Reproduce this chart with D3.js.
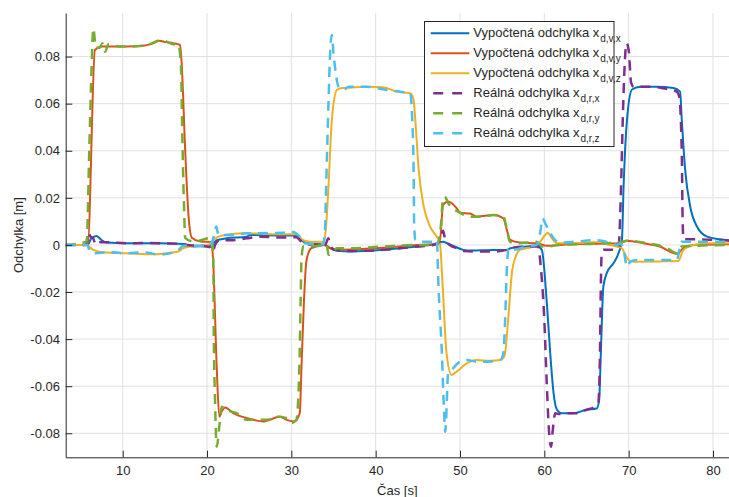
<!DOCTYPE html>
<meta charset="utf-8">
<style>
body { margin: 0; background: #fff; }
.grid line { stroke: #e1e1e1; stroke-width: 1; }
</style>
<svg width="729" height="497"></svg>
<script src="https://d3js.org/d3.v7.min.js"></script>
<script>

// ticks
var xTicks = [10, 20, 30, 40, 50, 60, 70, 80];
var yTicks = [-0.08, -0.06, -0.04, -0.02, 0, 0.02, 0.04, 0.06, 0.08];
var yTickLabels = ["-0.08", "-0.06", "-0.04", "-0.02", "0", "0.02", "0.04", "0.06", "0.08"];

// legend
var names = ["Vypočtená odchylka x", "Vypočtená odchylka x", "Vypočtená odchylka x",
             "Reálná odchylka x", "Reálná odchylka x", "Reálná odchylka x"];
var subs = ["d,v,x", "d,v,y", "d,v,z", "d,r,x", "d,r,y", "d,r,z"];
var colors = ["#0072BD", "#D95319", "#EDB120", "#7E2F8E", "#77AC30", "#4DBEEE"];

// computed x
var tVX = [3.24, 5.8, 6.3, 6.9, 7.5, 8.1, 10.5, 14.4, 17.2, 18.4, 20.0, 20.55, 21.15, 22.3, 24.7, 25.1, 29.0, 30.6,
  31.4, 32.2, 34.0, 34.6, 35.4, 37.0, 40.9, 42.9, 44.9, 46.4, 47.25, 48.0, 48.4, 49.2, 50.4, 51.2, 54.0, 55.55,
  56.0, 57.9, 59.1, 59.7, 60.3, 60.7, 61.1, 61.5, 62.1, 63.45, 65.0, 66.2, 66.5, 66.7, 67.0, 67.4, 68.2, 68.8,
  69.2, 69.4, 69.8, 70.4, 71.4, 73.35, 75.3, 76.1, 76.3, 76.7, 77.3, 78.1, 79.3, 80.8, 81.9];
var vVX = [0, 0, 0.0028, 0.0038, 0.002, 0.001, 0.0007, 0.0007, 0.0004, -0.0007, -0.0005, 0, 0.002, 0.0028, 0.0035, 0.0042, 0.004, 0.004,
  0.0014, 0.0007, 0, -0.0014, -0.0025, -0.0028, -0.0021, -0.0014, -0.0007, 0, 0.0003, 0.0014, 0.0008, -0.0004, -0.0021, -0.0024, -0.0022, -0.0022,
  -0.0014, -0.0007, -0.0004, -0.0021, -0.0248, -0.046, -0.063, -0.070, -0.0715, -0.0715, -0.070, -0.0695, -0.066, -0.046, -0.0177, -0.012, -0.0078, -0.0035,
  0.002, 0.0248, 0.053, 0.066, 0.0672, 0.0672, 0.0666, 0.0651, 0.053, 0.0319, 0.0163, 0.0078, 0.0035, 0.0024, 0.002];

// computed y
var tVY = [3.24, 5.85, 6.71, 7.5, 8.5, 10.5, 12.4, 13.5, 14.4, 15.0, 16.0, 16.8, 17.0, 17.4, 17.8, 18.2, 19.2, 20.55,
  20.75, 21.15, 21.46, 21.74, 22.14, 23.1, 24.7, 26.7, 28.66, 29.45, 30.4, 31.0, 31.2, 31.5, 31.8, 32.4, 34.0, 34.6,
  35.4, 37.0, 40.9, 44.9, 46.8, 47.6, 48.0, 48.6, 49.6, 50.0, 51.2, 52.0, 54.0, 55.15, 55.55, 55.95, 57.1, 59.1,
  60.3, 61.9, 65.8, 69.0, 69.8, 71.75, 73.7, 75.7, 76.5, 77.7, 81.9];
var vVY = [0, 0, 0.0828, 0.0843, 0.0843, 0.0843, 0.0846, 0.0855, 0.0867, 0.0862, 0.0857, 0.085, 0.0765, 0.041, 0.0127, 0.003, 0.0014, 0.0012,
  -0.009, -0.052, -0.073, -0.0708, -0.069, -0.0714, -0.0735, -0.075, -0.073, -0.0743, -0.075, -0.0714, -0.052, -0.0234, -0.0064, -0.0013, 0, -0.0014,
  -0.002, -0.0019, -0.0012, 0, 0.0003, 0.0014, 0.017, 0.0184, 0.0156, 0.0137, 0.0133, 0.012, 0.0127, 0.0113, 0.0064, 0.0021, 0.001, 0.0007,
  -0.0004, 0, 0.0005, 0.0007, 0.0018, 0.0007, -0.0007, -0.0038, -0.0014, 0, 0.0003];

// computed z
var tVZ = [3.24, 5.73, 6.5, 7.7, 10.5, 13.6, 15.2, 16.6, 17.2, 18.4, 20.15, 20.75, 21.35, 23.1, 24.7, 26.3, 29.05, 30.6,
  31.4, 32.2, 33.8, 34.1, 34.4, 34.8, 35.4, 36.0, 36.96, 38.9, 40.9, 42.5, 44.1, 44.5, 44.7, 45.1, 45.7, 46.45,
  47.25, 47.6, 47.95, 48.4, 49.0, 49.6, 50.8, 52.0, 53.6, 54.75, 55.15, 55.35, 55.75, 56.15, 56.6, 57.1, 58.7, 59.5,
  60.1, 60.4, 60.9, 61.5, 62.7, 65.8, 66.6, 67.0, 68.6, 69.2, 69.6, 70.0, 70.6, 73.7, 75.9, 76.5, 77.7, 79.7, 81.9];
var vVZ = [0, 0, -0.0021, -0.0031, -0.0035, -0.004, -0.0035, -0.0028, -0.0014, -0.0004, 0, 0.002, 0.0035, 0.0047, 0.005, 0.0048, 0.0045, 0.0045,
  0.002, 0.0014, 0.0014, 0.007, 0.0248, 0.053, 0.0658, 0.0666, 0.0668, 0.0672, 0.067, 0.0651, 0.0644, 0.0616, 0.053, 0.0319, 0.0163, 0.0078,
  0.0035, 0.0014, -0.0177, -0.046, -0.0552, -0.0538, -0.0503, -0.0489, -0.0492, -0.0489, -0.048, -0.046, -0.030, -0.012, -0.005, -0.0021, -0.0007, 0.0014,
  0.0042, 0.0052, 0.0028, 0.0007, 0.0007, 0.0011, 0.0013, 0.0007, -0.0007, -0.0014, -0.0042, -0.0064, -0.0071, -0.007, -0.0068, -0.0021, 0, 0.0007, 0.0007];

// real x
var tRX = [3.24, 5.65, 5.9, 6.2, 6.5, 6.8, 7.3, 8.1, 10.5, 12.4, 14.4, 16.8, 17.6, 19.2, 20.35, 20.7, 20.95, 21.5,
  23.1, 24.7, 26.3, 29.05, 30.6, 31.0, 31.4, 33.0, 34.0, 34.4, 34.6, 35.2, 37.0, 40.9, 44.9, 46.8, 47.6, 48.0,
  48.25, 48.8, 49.6, 50.4, 52.0, 54.0, 55.55, 55.95, 57.9, 59.3, 59.5, 60.0, 60.3, 60.6, 60.8, 61.0, 61.3, 61.7,
  62.7, 63.85, 65.0, 66.0, 66.4, 66.6, 66.7, 66.8, 67.0, 68.2, 68.8, 69.1, 69.3, 69.5, 69.75, 70.0, 70.3, 70.6,
  72.55, 74.1, 75.7, 76.0, 76.3, 76.4, 76.5, 77.7, 81.9];
var vRX = [0, 0, 0.005, 0.0035, 0.0028, 0, 0.0011, 0.0011, 0.0007, 0.0008, 0.0007, 0.0005, 0, -0.0004, -0.001, -0.0028, 0, 0.002,
  0.002, 0.0028, 0.0035, 0.0031, 0.0033, 0.0021, 0.0007, 0, 0, 0.0028, -0.0002, -0.0021, -0.0026, -0.0021, -0.0007, 0, 0.0014, 0.006,
  0.0021, 0, -0.0014, -0.0026, -0.0028, -0.0028, -0.0021, -0.0014, -0.0007, -0.0007, -0.0064, -0.032, -0.060, -0.0814, -0.0857, -0.0786, -0.0715, -0.0718,
  -0.0715, -0.0715, -0.070, -0.0687, -0.067, -0.046, -0.0177, -0.0035, -0.0021, -0.002, -0.0007, 0.0248, 0.053, 0.0743, 0.0857, 0.0828, 0.0687, 0.0672,
  0.0672, 0.0665, 0.0651, 0.063, 0.039, 0.0106, 0.0024, 0.0024, 0.0018];

// real y
var tRY = [3.24, 5.73, 6.04, 6.32, 6.51, 6.83, 7.3, 7.6, 7.9, 8.3, 9.5, 10.9, 12.85, 14.6, 16.0, 16.6, 16.9, 17.1,
  17.3, 17.4, 18.4, 20.55, 20.75, 20.8, 20.95, 21.15, 21.46, 21.74, 22.3, 23.5, 24.7, 25.9, 27.1, 28.3, 29.45, 30.05,
  30.6, 30.95, 31.1, 31.2, 31.4, 33.0, 34.2, 34.4, 34.8, 35.4, 37.0, 40.9, 44.9, 47.25, 47.7, 48.0, 48.2, 48.6,
  50.0, 51.2, 52.4, 54.0, 55.15, 55.55, 55.9, 56.7, 57.9, 59.1, 59.7, 60.3, 61.9, 65.8, 69.0, 69.8, 72.2, 74.5,
  75.7, 76.3, 77.7, 81.9];
var vRY = [0, 0.0014, 0.041, 0.0765, 0.092, 0.0837, 0.0837, 0.0857, 0.082, 0.0852, 0.0843, 0.0843, 0.0848, 0.087, 0.0852, 0.085, 0.0765, 0.041,
  0.0127, 0.003, 0.0014, 0.003, -0.0064, -0.037, -0.066, -0.0857, -0.077, -0.0687, -0.0701, -0.0714, -0.0743, -0.0743, -0.0743, -0.0729, -0.0736, -0.0756,
  -0.0743, -0.052, -0.0234, -0.0064, -0.0007, -0.0005, 0, -0.0042, -0.0035, -0.0014, -0.0014, -0.0007, 0, 0, 0.007, 0.0198, 0.0205, 0.0177,
  0.0137, 0.012, 0.012, 0.0127, 0.012, 0.0068, 0.0014, 0.0007, 0.001, 0.0014, -0.0007, -0.0007, 0.0001, 0.0005, 0.0011, 0.0018, 0.0007, -0.0013,
  -0.0035, -0.0007, -0.0004, 0];

// real z
var tRZ = [3.24, 5.8, 6.1, 6.5, 8.5, 10.5, 12.4, 14.4, 16.4, 17.2, 18.4, 20.35, 20.8, 21.1, 21.35, 23.1, 24.7, 26.3,
  29.05, 30.2, 31.0, 31.6, 33.0, 33.8, 34.0, 34.1, 34.4, 34.6, 34.8, 35.0, 35.6, 36.2, 36.8, 37.8, 38.9, 40.1,
  41.3, 42.9, 44.1, 44.3, 44.5, 44.55, 44.7, 45.3, 46.85, 47.25, 47.45, 47.85, 48.1, 48.25, 48.6, 49.0, 50.0, 50.8,
  52.0, 53.2, 54.75, 55.15, 55.35, 55.55, 55.75, 56.3, 57.9, 59.1, 59.5, 59.8, 60.1, 60.5, 61.1, 61.9, 63.8, 65.8,
  66.8, 68.6, 69.0, 69.4, 69.8, 70.2, 71.0, 73.7, 75.7, 76.3, 81.9];
var vRZ = [0, 0, -0.0028, -0.0035, -0.0031, -0.0035, -0.0031, -0.0041, -0.0028, -0.0004, -0.0003, -0.0004, 0.0035, 0.0078, 0.0042, 0.0042, 0.005, 0.005,
  0.0052, 0.0055, 0.0035, 0.0007, 0.0003, 0.0003, 0.007, 0.021, 0.06, 0.0815, 0.0892, 0.0814, 0.0672, 0.0658, 0.0672, 0.0672, 0.0672, 0.0666,
  0.0658, 0.0651, 0.0644, 0.056, 0.0319, 0.0106, 0.0021, 0.0014, 0.0014, 0.0021, -0.0177, -0.046, -0.07, -0.0794, -0.0545, -0.0531, -0.0496, -0.0489,
  -0.0496, -0.0496, -0.0489, -0.046, -0.0319, -0.0106, -0.0014, -0.0021, -0.0007, 0, 0.005, 0.0113, 0.0092, 0.0064, 0.0028, 0.001, 0.0014, 0.002,
  0.0018, 0, 0.0005, -0.0021, -0.0092, -0.0071, -0.0064, -0.0064, -0.0064, 0.0014, 0.0014];

var series = [
  {t: tVX, v: vVX, dashed: false},
  {t: tVY, v: vVY, dashed: false},
  {t: tVZ, v: vVZ, dashed: false},
  {t: tRX, v: vRX, dashed: true},
  {t: tRY, v: vRY, dashed: true},
  {t: tRZ, v: vRZ, dashed: true}
];

var font = "'Liberation Sans', Arial, Helvetica, sans-serif";

var svg = d3.select("svg"),
    margin = {top: 13, right: 0, bottom: 39.7, left: 65.7},
    width = +svg.attr("width") - margin.left - margin.right,
    height = +svg.attr("height") - margin.top - margin.bottom,
    g = svg.append("g").attr("transform", "translate(" + margin.left + "," + margin.top + ")");

var x = d3.scaleLinear().domain([3.24, 81.9]).range([0, width]);
var y = d3.scaleLinear().domain([-0.0902, 0.0985]).range([height, 0]);

// grid
var grid = g.append("g").attr("class", "grid");
grid.selectAll(".gx").data(xTicks).enter().append("line")
    .attr("x1", function(d) { return x(d); }).attr("x2", function(d) { return x(d); })
    .attr("y1", 0).attr("y2", height);
grid.selectAll(".gy").data(yTicks).enter().append("line")
    .attr("x1", 0).attr("x2", width)
    .attr("y1", function(d) { return y(d); }).attr("y2", function(d) { return y(d); });

g.append("clipPath").attr("id", "clip")
  .append("rect").attr("width", width).attr("height", height);

var line = d3.line()
    .curve(d3.curveMonotoneX)
    .x(function(d) { return x(d[0]); })
    .y(function(d) { return y(d[1]); });

g.append("g").attr("clip-path", "url(#clip)")
  .selectAll("path").data(series).enter().append("path")
    .attr("fill", "none")
    .attr("stroke", function(d, i) { return colors[i]; })
    .attr("stroke-width", function(d) { return d.dashed ? 2.5 : 2; })
    .attr("stroke-dasharray", function(d) { return d.dashed ? "10,7" : null; })
    .attr("d", function(d) { return line(d3.zip(d.t, d.v)); });

// axes (MATLAB style, ticks inside, box off)
var xAxis = g.append("g").attr("transform", "translate(0," + height + ")")
    .call(d3.axisBottom(x).tickValues(xTicks).tickSizeInner(-6.6).tickSizeOuter(0).tickPadding(12));
var yAxis = g.append("g")
    .call(d3.axisLeft(y).tickValues(yTicks).tickSizeInner(-6.6).tickSizeOuter(0).tickPadding(12)
      .tickFormat(function(d, i) { return yTickLabels[i]; }));

[xAxis, yAxis].forEach(function(a) {
  a.attr("font-family", font).attr("font-size", 13);
  a.select(".domain").attr("stroke", "#262626").attr("stroke-width", 1);
  a.selectAll(".tick line").attr("stroke", "#262626");
  a.selectAll(".tick text").attr("fill", "#262626");
});
yAxis.selectAll(".tick text").attr("x", -5.7);
xAxis.selectAll(".tick text").attr("y", 8);

svg.append("text")
    .attr("x", margin.left + width / 2).attr("y", 495)
    .style("font-family", font).style("font-size", "13px").attr("fill", "#262626")
    .attr("text-anchor", "middle").text("Čas [s]");

svg.append("text")
    .attr("transform", "translate(23," + (margin.top + height / 2) + ") rotate(-90)")
    .style("font-family", font).style("font-size", "13px").attr("fill", "#262626")
    .attr("text-anchor", "middle").text("Odchylka [m]");

// legend
var legend = svg.append("g");
legend.append("rect")
    .attr("x", 424.5).attr("y", 21.5).attr("width", 189.5).attr("height", 125)
    .attr("fill", "#fff").attr("stroke", "#262626").attr("stroke-width", 1);

var row = legend.selectAll(".row").data(names).enter().append("g")
    .attr("transform", function(d, i) { return "translate(0," + (33.3 + i * 20) + ")"; });

row.append("line")
    .attr("x1", 430.7).attr("x2", 469.3)
    .attr("stroke", function(d, i) { return colors[i]; })
    .attr("stroke-width", function(d, i) { return i > 2 ? 2.5 : 2; })
    .attr("stroke-dasharray", function(d, i) { return i > 2 ? "10,9" : null; })
    .attr("stroke-dashoffset", -2.5);

var txt = row.append("text").attr("x", 473.3).attr("y", 4)
    .style("font-family", font).style("font-size", "13px").attr("fill", "#262626");
txt.append("tspan").text(function(d) { return d; });
txt.append("tspan").attr("dx", 1).attr("dy", 4.5).style("font-size", "10px").text(function(d, i) { return subs[i]; });

</script>
